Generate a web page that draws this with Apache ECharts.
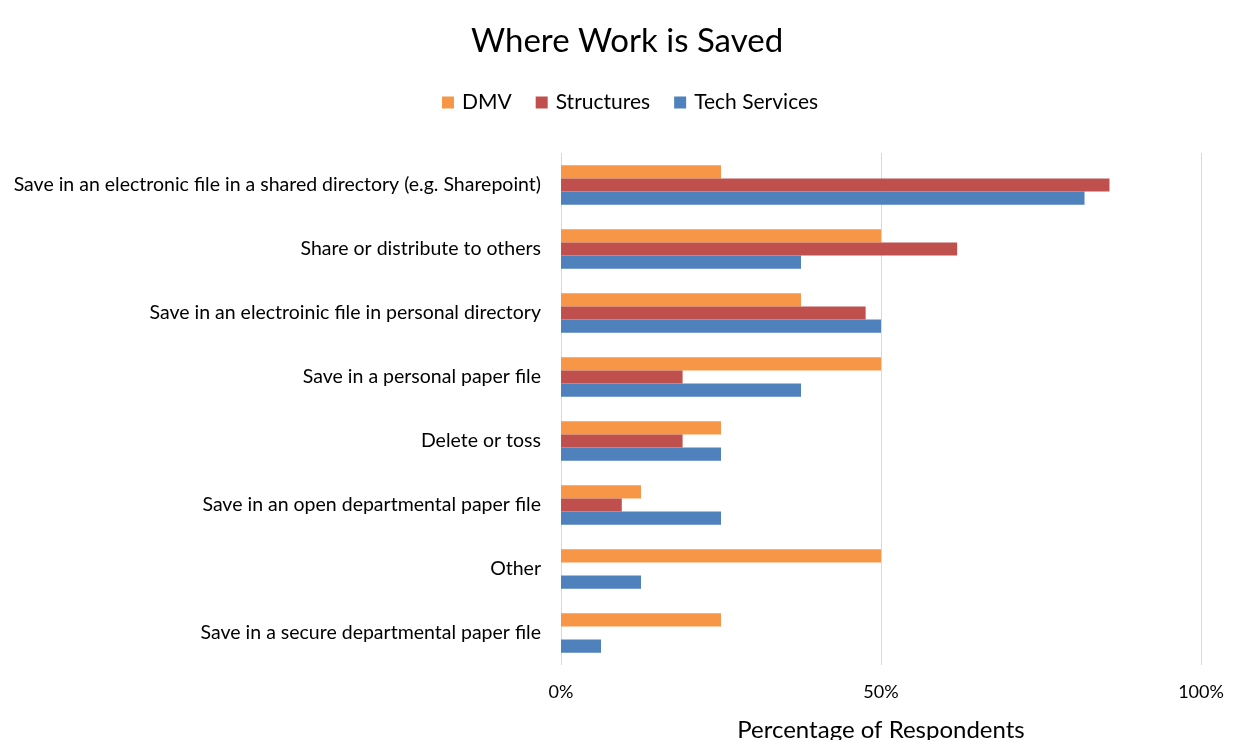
<!DOCTYPE html>
<html>
<head>
<meta charset="utf-8">
<script src="https://cdn.jsdelivr.net/npm/echarts@6/dist/echarts.min.js"></script>
<style>html,body{margin:0;padding:0;background:#fff;}#c{width:1238px;height:740px;}</style>
</head>
<body>
<div id="c"></div>
<script>
const categories = [
  "Save in an electronic file in a shared directory (e.g. Sharepoint)",
  "Share or distribute to others",
  "Save in an electroinic file in personal directory",
  "Save in a personal paper file",
  "Delete or toss",
  "Save in an open departmental paper file",
  "Other",
  "Save in a secure departmental paper file"
];
const dmv = [25, 50, 37.5, 50, 25, 12.5, 50, 25];
const structures = [85.7, 61.9, 47.6, 19.0, 19.0, 9.5, 0, 0];
const techServices = [81.8, 37.5, 50, 37.5, 25, 25, 12.5, 6.25];
const xTicks = [0, 50, 100];

const FONT = 'Lato';
const chart = echarts.init(document.getElementById('c'));
chart.setOption({
  animation: false,
  title: {
    text: 'Where Work is Saved',
    left: 466, top: 20,
    textStyle: { fontFamily: FONT, fontSize: 33, fontWeight: 'normal', color: '#000' }
  },
  legend: {
    top: 87, left: 437,
    itemWidth: 12, itemHeight: 12, itemGap: 24,
    icon: 'rect',
    textStyle: { fontFamily: FONT, fontSize: 21, color: '#000', padding: [0, 0, 0, 3] },
    data: ['DMV', 'Structures', 'Tech Services']
  },
  grid: { left: 561, right: 37, top: 153, bottom: 75, containLabel: false, outerBoundsMode: 'none' },
  xAxis: {
    type: 'value', min: 0, max: 100, interval: 50,
    name: 'Percentage of Respondents', nameLocation: 'middle', nameGap: 53,
    nameTextStyle: { fontFamily: FONT, fontSize: 24, color: '#000' },
    axisLine: { show: false }, axisTick: { show: false },
    axisLabel: { fontFamily: FONT, fontSize: 18, color: '#000', margin: 18,
      formatter: v => xTicks.includes(v) ? v + '%' : '' },
    splitLine: { show: true, lineStyle: { color: '#d9d9d9', width: 1 } }
  },
  yAxis: {
    type: 'category', data: categories, inverse: true,
    axisLine: { show: false }, axisTick: { show: false },
    axisLabel: { fontFamily: FONT, fontSize: 19.5, color: '#000', margin: 20, padding: [0, 0, 4, 0] }
  },
  series: [
    { name: 'DMV', type: 'bar', data: dmv, itemStyle: { color: '#F79646' }, barGap: '0%', barCategoryGap: '38%' },
    { name: 'Structures', type: 'bar', data: structures, itemStyle: { color: '#C0504D' }, barGap: '0%', barCategoryGap: '38%' },
    { name: 'Tech Services', type: 'bar', data: techServices, itemStyle: { color: '#4F81BD' }, barGap: '0%', barCategoryGap: '38%' }
  ]
});
</script>
</body>
</html>
